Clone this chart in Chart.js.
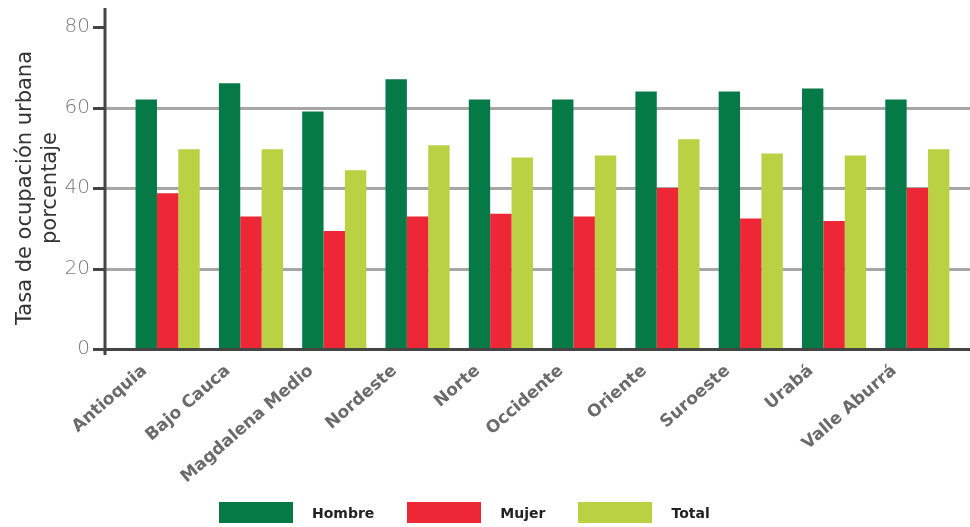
<!DOCTYPE html>
<html>
<head>
<meta charset="utf-8">
<script src="https://cdn.jsdelivr.net/npm/chart.js@4"></script>
<style>
  html, body { margin: 0; padding: 0; background: #fff; }
  #wrap { width: 970px; height: 527px; position: relative; }
  #leyenda { position: absolute; left: 219px; top: 502px; display: flex; align-items: center;
    font-family: "DejaVu Sans", sans-serif; font-weight: bold; font-size: 14px; color: #222; }
  #leyenda .item { display: flex; align-items: center; margin-right: 33px; }
  #leyenda .caja { width: 74px; height: 21px; margin-right: 19px; }
</style>
</head>
<body>
<div id="wrap"><canvas id="grafico"></canvas><div id="leyenda"></div></div>
<script>
// subregiones y tasas por sexo
const subregiones = ["Antioquia", "Bajo Cauca", "Magdalena Medio", "Nordeste", "Norte",
    "Occidente", "Oriente", "Suroeste", "Urabá", "Valle Aburrá"];
const hombre = [62.0, 66.0, 59.0, 67.0, 62.0, 62.0, 64.0, 64.0, 64.7, 62.0];
const mujer  = [38.7, 32.9, 29.3, 32.9, 33.6, 32.9, 40.0, 32.4, 31.8, 40.0];
const total  = [49.6, 49.6, 44.4, 50.6, 47.6, 48.1, 52.1, 48.6, 48.1, 49.6];
const ticksY = [0, 20, 40, 60, 80];

// ejes y rejilla dibujados a mano (el eje Y queda separado de las barras)
const ejes = {
    id: "ejes",
    beforeDatasetsDraw(chart) {
        const c = chart.ctx, y = chart.scales.y, area = chart.chartArea;
        const x0 = area.left - 21;
        c.save();
        c.strokeStyle = "#a6a6a6";
        c.lineWidth = 3;
        ticksY.forEach(v => {
            if (v === 0 || v === 80) return;
            const py = Math.round(y.getPixelForValue(v)) + 0.5;
            c.beginPath(); c.moveTo(x0, py); c.lineTo(chart.width, py); c.stroke();
        });
        c.restore();
    },
    afterDatasetsDraw(chart) {
        const c = chart.ctx, y = chart.scales.y, area = chart.chartArea;
        const x0 = area.left - 21;
        c.save();
        c.strokeStyle = "#444";
        c.lineWidth = 3;
        c.beginPath(); c.moveTo(x0, 8); c.lineTo(x0, area.bottom + 6); c.stroke();
        ticksY.forEach(v => {
            const py = Math.round(y.getPixelForValue(v)) + 0.5;
            c.beginPath(); c.moveTo(x0 - 12, py); c.lineTo(v === 0 ? chart.width : x0, py); c.stroke();
        });
        c.restore();
    }
};

const grafico = new Chart(document.getElementById("grafico"), {
    type: "bar",
    data: {
        labels: subregiones,
        datasets: [
            { label: "Hombre", data: hombre, backgroundColor: "#067a46" },
            { label: "Mujer", data: mujer, backgroundColor: "#ee2737" },
            { label: "Total", data: total, backgroundColor: "#b9d142" }
        ]
    },
    options: {
        responsive: true,
        maintainAspectRatio: false,
        animation: false,
        layout: { padding: { top: 27, right: 11, left: 0, bottom: 0 } },
        datasets: { bar: { categoryPercentage: 0.77, barPercentage: 1.0 } },
        scales: {
            x: {
                grid: { display: false, drawTicks: false },
                border: { display: false },
                afterFit(s) { s.height = 178; },
                ticks: {
                    color: "#6b6b6b",
                    font: { family: "DejaVu Sans", size: 17, weight: "bold" },
                    maxRotation: 41, minRotation: 41,
                    labelOffset: -23,
                    padding: 12,
                    autoSkip: false
                }
            },
            y: {
                min: 0, max: 80,
                grid: { display: false, drawTicks: false },
                border: { display: false },
                afterFit(s) {
                    s.width = 126;
                    // el padding de las etiquetas no debe empujar el área hacia abajo
                    s.paddingTop = 10;
                    s.paddingBottom = 10;
                },
                ticks: {
                    stepSize: 20,
                    color: "#7a7a7a",
                    padding: 36,
                    font: { family: "DejaVu Sans", size: 20, weight: "200" }
                },
                title: {
                    display: true,
                    text: ["Tasa de ocupación urbana", "porcentaje"],
                    color: "#333",
                    font: { family: "DejaVu Sans", size: 21 },
                    padding: { top: 13, bottom: 0 }
                }
            }
        },
        plugins: {
            legend: { display: false },
            tooltip: { enabled: false }
        }
    },
    plugins: [ejes]
});

// leyenda en HTML a partir de las series
const leyenda = document.getElementById("leyenda");
grafico.data.datasets.forEach(ds => {
    const item = document.createElement("div");
    item.className = "item";
    const caja = document.createElement("span");
    caja.className = "caja";
    caja.style.background = ds.backgroundColor;
    item.appendChild(caja);
    item.appendChild(document.createTextNode(ds.label));
    leyenda.appendChild(item);
});
</script>
</body>
</html>
